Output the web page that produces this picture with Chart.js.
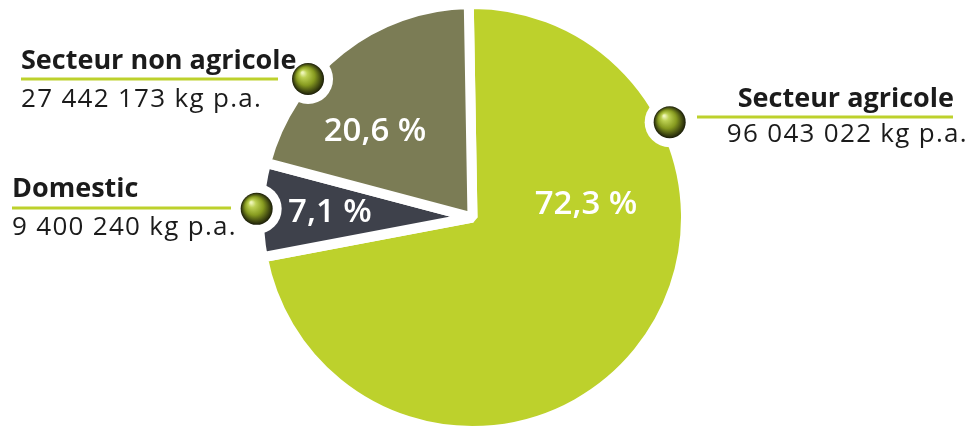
<!DOCTYPE html>
<html>
<head>
<meta charset="utf-8">
<script src="https://cdn.jsdelivr.net/npm/chart.js@4"></script>
<style>
  html, body { margin: 0; background: #fff; }
  #wrap { position: relative; width: 973px; height: 430px; }
</style>
</head>
<body>
<div id="wrap"><canvas id="emissions"></canvas></div>
<script>
const sectors = ['Secteur agricole', 'Domestic', 'Secteur non agricole'];
const sharePct = [72.3, 7.1, 20.6];
const quantityKg = [96043022, 9400240, 27442173];
const sliceColors = ['#bdd12c', '#3e414b', '#7b7c55'];

// where each sector's caption sits
const captions = [
  { align: 'right', nameX: 954, nameY: 107, valueX: 968, valueY: 142, lineY: 117, lineFrom: 697, lineTo: 953 },
  { align: 'left',  nameX: 12,  nameY: 197, valueX: 12,  valueY: 235, lineY: 208, lineFrom: 12,  lineTo: 231 },
  { align: 'left',  nameX: 21,  nameY: 69,  valueX: 21,  valueY: 107, lineY: 79,  lineFrom: 21,  lineTo: 278 }
];
// polar spots around the pie centre (canvas degrees, px)
const pctSpots  = [{ a: -1.8, r: 113.6 }, { a: 178.2, r: 142.6 }, { a: 218.1, r: 123.9 }];
const ballSpots = [{ a: -25.8, r: 219 }, { a: 182.3, r: 216 }, { a: 220.1, r: 215 }];

const fmtKg = n => String(n).replace(/\B(?=(\d{3})+(?!\d))/g, ' ') + ' kg p.a.';
const fmtPct = p => p.toFixed(1).replace('.', ',') + ' %';

function polar(cx, cy, spot) {
  const t = spot.a * Math.PI / 180;
  return [cx + Math.cos(t) * spot.r, cy + Math.sin(t) * spot.r];
}

function drawBall(ctx, x, y, r) {
  const g = ctx.createRadialGradient(x - r * 0.35, y - r * 0.4, r * 0.05, x, y, r);
  g.addColorStop(0, '#eef5b8');
  g.addColorStop(0.2, '#bcd052');
  g.addColorStop(0.55, '#879b20');
  g.addColorStop(0.82, '#464f12');
  g.addColorStop(1, '#1a1d08');
  ctx.beginPath();
  ctx.arc(x, y, r, 0, Math.PI * 2);
  ctx.fillStyle = g;
  ctx.fill();
}

const decorations = {
  id: 'decorations',
  afterDatasetsDraw(chart) {
    const ctx = chart.ctx;
    const arcs = chart.getDatasetMeta(0).data;
    const cx = arcs[0].x, cy = arcs[0].y;
    ctx.save();

    // percentages inside the slices
    ctx.fillStyle = '#ffffff';
    ctx.font = '600 33px "Open Sans"';
    ctx.textAlign = 'center';
    ctx.textBaseline = 'alphabetic';
    sharePct.forEach((p, i) => {
      const [x, y] = polar(cx, cy, pctSpots[i]);
      ctx.fillText(fmtPct(p), x, y);
    });

    // white notches behind the markers
    ballSpots.forEach(s => {
      const [x, y] = polar(cx, cy, s);
      ctx.beginPath();
      ctx.arc(x, y, 25, 0, Math.PI * 2);
      ctx.fill();
    });

    // captions
    sectors.forEach((name, i) => {
      const c = captions[i];
      ctx.textAlign = c.align;
      ctx.fillStyle = '#1b1b1b';
      ctx.letterSpacing = '0px';
      ctx.font = 'bold 27px "Open Sans"';
      ctx.fillText(name, c.nameX, c.nameY);
      ctx.letterSpacing = '1.3px';
      ctx.font = '26px "Open Sans"';
      ctx.fillText(fmtKg(quantityKg[i]), c.valueX, c.valueY);
      ctx.strokeStyle = '#bdd12c';
      ctx.lineWidth = 3;
      ctx.beginPath();
      ctx.moveTo(c.lineFrom, c.lineY);
      ctx.lineTo(c.lineTo, c.lineY);
      ctx.stroke();
    });
    ctx.letterSpacing = '0px';

    ballSpots.forEach(s => {
      const [x, y] = polar(cx, cy, s);
      drawBall(ctx, x, y, 16);
    });
    ctx.restore();
  }
};

new Chart(document.getElementById('emissions'), {
  type: 'pie',
  data: {
    labels: sectors,
    datasets: [{
      data: sharePct,
      backgroundColor: sliceColors,
      borderColor: '#ffffff',
      borderWidth: 10
    }]
  },
  options: {
    responsive: true,
    maintainAspectRatio: false,
    animation: false,
    events: [],
    rotation: -1,
    radius: 213.5,
    layout: { padding: { left: 0, right: 28, top: 5, bottom: 0 } },
    plugins: {
      legend: { display: false },
      tooltip: { enabled: false }
    }
  },
  plugins: [decorations]
});
</script>
</body>
</html>
